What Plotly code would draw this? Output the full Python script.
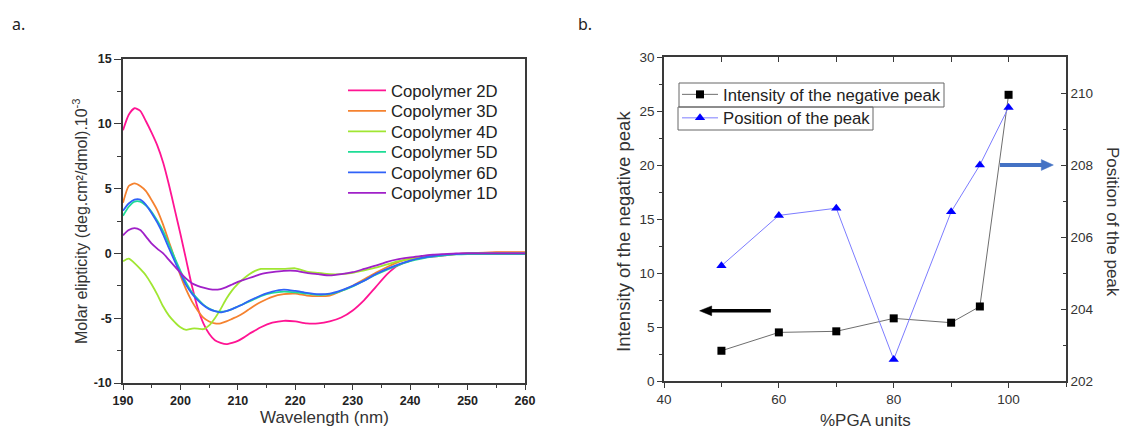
import plotly.graph_objects as go

# ---------------- data: panel a (CD spectra) ----------------
wavelength = [190, 191, 192, 193, 194, 195, 196, 197, 198, 199, 200, 201, 202, 203, 204,
              205, 206, 207, 208, 209, 210, 211, 212, 213, 214,
              216, 218, 220, 222, 224, 226, 228, 230, 232, 234, 236, 238, 240, 242, 244,
              246, 248, 250, 255, 260]

cop_2D = [9.5, 10.7, 11.2, 11.0, 10.2, 9.3, 8.3, 7.0, 5.3, 3.4, 1.5, -0.5, -2.5, -4.2, -5.4,
          -6.2, -6.7, -6.9, -7.0, -6.9, -6.75, -6.5, -6.2, -5.95, -5.7,
          -5.35, -5.2, -5.25, -5.4, -5.4, -5.25, -4.95, -4.4, -3.6, -2.6, -1.6, -0.9, -0.55, -0.35, -0.25,
          -0.15, -0.05, 0.0, 0.05, 0.05]
cop_3D = [3.9, 5.2, 5.4, 5.2, 4.8, 4.1, 3.3, 2.2, 0.9, -0.4, -1.7, -2.8, -3.7, -4.4, -4.95,
          -5.25, -5.4, -5.4, -5.25, -5.05, -4.85, -4.6, -4.3, -4.0, -3.75,
          -3.35, -3.15, -3.1, -3.25, -3.3, -3.25, -2.9, -2.5, -2.0, -1.5, -1.05, -0.65, -0.4, -0.25, -0.15,
          -0.1, -0.05, 0.0, 0.1, 0.1]
cop_4D = [-0.6, -0.4, -0.75, -1.2, -1.7, -2.4, -3.2, -4.1, -4.8, -5.3, -5.7, -5.9, -5.8, -5.8, -5.85,
          -5.55, -5.0, -4.3, -3.5, -2.85, -2.35, -1.95, -1.6, -1.35, -1.2,
          -1.2, -1.2, -1.15, -1.4, -1.5, -1.6, -1.6, -1.5, -1.3, -1.1, -0.85, -0.6, -0.45, -0.3, -0.2,
          -0.12, -0.05, -0.02, 0.0, 0.0]
cop_5D = [2.9, 3.6, 4.0, 4.0, 3.7, 3.2, 2.5, 1.7, 0.7, -0.35, -1.35, -2.25, -3.0, -3.5, -3.95,
          -4.25, -4.45, -4.5, -4.45, -4.3, -4.1, -3.9, -3.7, -3.5, -3.3,
          -3.05, -2.95, -3.0, -3.1, -3.2, -3.15, -2.9, -2.55, -2.1, -1.65, -1.25, -0.9, -0.6, -0.4, -0.25,
          -0.15, -0.08, -0.05, -0.05, -0.05]
cop_6D = [3.3, 3.85, 4.15, 4.15, 3.75, 3.1, 2.35, 1.45, 0.4, -0.6, -1.55, -2.45, -3.1, -3.6, -4.0,
          -4.3, -4.45, -4.55, -4.45, -4.3, -4.1, -3.9, -3.65, -3.45, -3.25,
          -2.95, -2.8, -2.9, -3.05, -3.15, -3.1, -2.85, -2.5, -2.1, -1.6, -1.2, -0.85, -0.55, -0.35, -0.2,
          -0.1, -0.05, 0.0, 0.0, 0.0]
cop_1D = [1.4, 1.8, 1.95, 1.8, 1.3, 0.75, 0.35, 0.0, -0.5, -1.0, -1.5, -1.95, -2.3, -2.5, -2.65,
          -2.75, -2.8, -2.75, -2.6, -2.4, -2.2, -2.05, -1.9, -1.75, -1.6,
          -1.45, -1.35, -1.35, -1.5, -1.6, -1.7, -1.6, -1.45, -1.2, -0.95, -0.65, -0.45, -0.3, -0.2, -0.1,
          -0.05, 0.0, 0.0, 0.0, 0.0]

series_names = ["Copolymer 2D", "Copolymer 3D", "Copolymer 4D", "Copolymer 5D", "Copolymer 6D", "Copolymer 1D"]
series_values = [cop_2D, cop_3D, cop_4D, cop_5D, cop_6D, cop_1D]
series_colors = ["#FF1493", "#F5822F", "#A0E632", "#1EDC96", "#3062F8", "#A020C8"]

left_y_tickvals = [-10, -5, 0, 5, 10, 15]
left_y_ticktext = ["-10", "-5", "0", "5", "10", "15"]

# ---------------- data: panel b ----------------
pga_units = [50, 60, 70, 80, 90, 95, 100]
intensity_neg_peak = [2.8, 4.5, 4.6, 5.8, 5.4, 6.9, 26.5]
position_peak = [205.2, 206.6, 206.8, 202.6, 206.7, 208.0, 209.6]

FONT = "Liberation Sans, Arial, sans-serif"
AX = "#3a3a3a"
LEG_FONT = dict(family=FONT, size=16.7, color="#222")

fig = go.Figure()

left_legend_ids = ["legend", "legend4", "legend5", "legend6", "legend7", "legend8"]
left_row_centers = [91, 111.5, 132, 152.5, 173, 193.5]

for name, vals, col, lid in zip(series_names, series_values, series_colors, left_legend_ids):
    fig.add_trace(go.Scatter(x=wavelength, y=vals, name=name, mode="lines",
                             line=dict(color=col, width=1.8, shape="spline", smoothing=0.6),
                             xaxis="x", yaxis="y", legend=lid))

fig.add_trace(go.Scatter(x=pga_units, y=intensity_neg_peak, name="Intensity of the negative peak",
                         mode="lines+markers", line=dict(color="#6e6e6e", width=1),
                         marker=dict(symbol="square", size=8, color="black"),
                         xaxis="x2", yaxis="y2", legend="legend2"))
fig.add_trace(go.Scatter(x=pga_units, y=position_peak, name="Position of the peak",
                         mode="lines+markers", line=dict(color="#7c7cff", width=1),
                         marker=dict(symbol="triangle-up", size=9, color="#0000ff"),
                         xaxis="x3", yaxis="y3", legend="legend3"))

left_dom_x = [123 / 1123, 525 / 1123]
left_dom_y = [1 - 383 / 433, 1 - 59 / 433]
right_dom_x = [664 / 1123, 1066 / 1123]
right_dom_y = [1 - 381 / 433, 1 - 57 / 433]

bold_tick = dict(family=FONT, size=12.5, color="#222", weight="bold")
norm_tick = dict(family=FONT, size=13.5, color="#333")

layout_legends = {}
for lid, yc in zip(left_legend_ids, left_row_centers):
    layout_legends[lid] = dict(x=343 / 1123, y=1 - (yc - 18) / 433, xanchor="left", yanchor="top",
                               bgcolor="rgba(0,0,0,0)", borderwidth=0, itemwidth=38, font=LEG_FONT)
layout_legends["legend2"] = dict(x=677 / 1123, y=1 - 77 / 433, xanchor="left", yanchor="top",
                                 bgcolor="rgba(0,0,0,0)", borderwidth=0, itemwidth=36, font=LEG_FONT)
layout_legends["legend3"] = dict(x=677 / 1123, y=1 - 100.5 / 433, xanchor="left", yanchor="top",
                                 bgcolor="rgba(0,0,0,0)", borderwidth=0, itemwidth=36, font=LEG_FONT)

fig.update_layout(
    width=1123, height=433,
    margin=dict(l=0, r=0, t=0, b=0),
    paper_bgcolor="white", plot_bgcolor="white",
    font=dict(family=FONT, color="#333"),
    showlegend=True,
    xaxis=dict(domain=left_dom_x, anchor="y", range=[190, 260], dtick=10, tick0=190,
               showline=True, linecolor=AX, linewidth=1.5, mirror=True,
               ticks="outside", ticklen=5, tickwidth=1.2, tickcolor=AX,
               minor=dict(dtick=5, ticks="outside", ticklen=3, tickcolor=AX, showgrid=False),
               showgrid=False, zeroline=False, tickfont=bold_tick, automargin=False),
    yaxis=dict(domain=left_dom_y, anchor="x", range=[-10, 15],
               tickmode="array", tickvals=left_y_tickvals, ticktext=left_y_ticktext,
               showline=True, linecolor=AX, linewidth=1.5, mirror=True,
               ticks="outside", ticklen=7, tickwidth=1.2, tickcolor=AX,
               minor=dict(dtick=2.5, tick0=-10, ticks="outside", ticklen=4, tickcolor=AX, showgrid=False),
               showgrid=False, zeroline=False, tickfont=bold_tick, automargin=False),
    xaxis2=dict(domain=right_dom_x, anchor="y2", range=[40, 110], dtick=20, tick0=40,
                showline=True, linecolor=AX, linewidth=1.5,
                ticks="outside", ticklen=5, tickwidth=1.2, tickcolor=AX,
                minor=dict(dtick=10, ticks="outside", ticklen=4, tickcolor=AX, showgrid=False),
                showgrid=False, zeroline=False, tickfont=norm_tick, automargin=False),
    yaxis2=dict(domain=right_dom_y, anchor="x2", range=[0, 30], dtick=5,
                showline=True, linecolor=AX, linewidth=1.5,
                ticks="outside", ticklen=5, tickwidth=1.2, tickcolor=AX,
                minor=dict(dtick=2.5, ticks="outside", ticklen=3, tickcolor=AX, showgrid=False),
                showgrid=False, zeroline=False, tickfont=norm_tick, automargin=False),
    xaxis3=dict(overlaying="x2", anchor="y3", side="top", range=[40, 110], dtick=10, tick0=40,
                showline=True, linecolor=AX, linewidth=1.5,
                ticks="inside", ticklen=5, tickwidth=1.2, tickcolor=AX,
                showticklabels=False, showgrid=False, zeroline=False, automargin=False),
    yaxis3=dict(overlaying="y2", anchor="x2", side="right", range=[202, 211], dtick=2, tick0=202,
                showline=True, linecolor=AX, linewidth=1.5,
                ticks="inside", ticklen=5, tickwidth=1.2, tickcolor=AX,
                minor=dict(dtick=1, ticks="inside", ticklen=3, tickcolor=AX, showgrid=False),
                showgrid=False, zeroline=False, tickfont=norm_tick, automargin=False),
    **layout_legends,
)

annotations = [
    dict(text="a.", x=10 / 1123, y=1 - 24 / 433, xref="paper", yref="paper", showarrow=False,
         xanchor="left", yanchor="middle", font=dict(family="Noto Sans", size=16, color="#222")),
    dict(text="b.", x=576 / 1123, y=1 - 24 / 433, xref="paper", yref="paper", showarrow=False,
         xanchor="left", yanchor="middle", font=dict(family="Noto Sans", size=16, color="#222")),
    dict(text="Wavelength (nm)", x=324 / 1123, y=1 - 417 / 433, xref="paper", yref="paper",
         showarrow=False, xanchor="center", yanchor="middle", font=dict(family=FONT, size=17, color="#333")),
    dict(text="Molar elipticity (deg.cm²/dmol).10<sup>-3</sup>", x=80 / 1123, y=1 - 221 / 433,
         xref="paper", yref="paper", showarrow=False, textangle=-90, xanchor="center", yanchor="middle",
         font=dict(family=FONT, size=16, color="#333")),
    dict(text="%PGA units", x=865 / 1123, y=1 - 420 / 433, xref="paper", yref="paper",
         showarrow=False, xanchor="center", yanchor="middle", font=dict(family=FONT, size=17, color="#333")),
    dict(text="Intensity of the negative peak", x=623 / 1123, y=1 - 232 / 433, xref="paper", yref="paper",
         showarrow=False, textangle=-90, xanchor="center", yanchor="middle",
         font=dict(family=FONT, size=18.5, color="#333")),
    dict(text="Position of the peak", x=1113 / 1123, y=1 - 222 / 433, xref="paper", yref="paper",
         showarrow=False, textangle=90, xanchor="center", yanchor="middle",
         font=dict(family=FONT, size=17, color="#333")),
]
fig.update_layout(annotations=annotations)

shapes = [
    dict(type="rect", xref="paper", yref="paper", x0=679 / 1123, x1=944 / 1123,
         y0=1 - 107 / 433, y1=1 - 83 / 433, line=dict(color="#666", width=1), fillcolor="rgba(0,0,0,0)"),
    dict(type="rect", xref="paper", yref="paper", x0=678 / 1123, x1=873 / 1123,
         y0=1 - 130 / 433, y1=1 - 107 / 433, line=dict(color="#666", width=1), fillcolor="rgba(0,0,0,0)"),
    dict(type="line", xref="x2", yref="y2", x0=58.6, y0=6.5, x1=47.5, y1=6.5,
         line=dict(color="black", width=3.5)),
    dict(type="path", xref="x2", yref="y2", path="M 46.2,6.5 L 48.3,6.95 L 48.3,6.05 Z",
         fillcolor="black", line=dict(color="black", width=0.5)),
    dict(type="line", xref="x3", yref="y3", x0=98.5, y0=208, x1=106.0, y1=208,
         line=dict(color="#4472C4", width=4)),
    dict(type="path", xref="x3", yref="y3", path="M 107.8,208 L 105.7,208.15 L 105.7,207.85 Z",
         fillcolor="#4472C4", line=dict(color="#4472C4", width=0.5)),
]
fig.update_layout(shapes=shapes)

fig.write_html("out.html", config={"displayModeBar": False},
               post_script="document.body.style.margin='0px';")
